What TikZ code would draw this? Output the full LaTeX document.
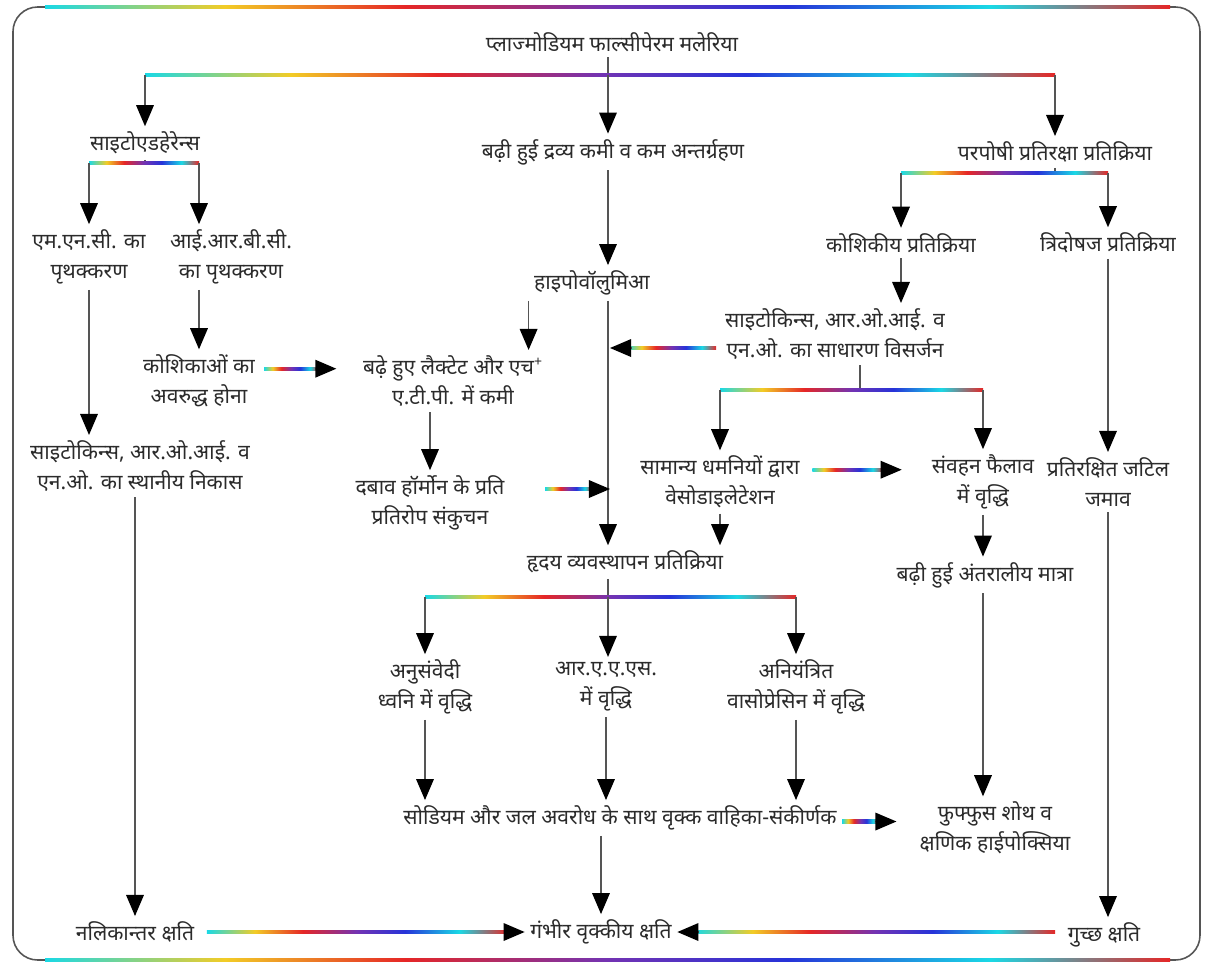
\documentclass[tikz,border=0pt]{standalone}
\usepackage{fontspec}
\setmainfont[Script=Devanagari]{Noto Sans}
\usetikzlibrary{arrows.meta}
\definecolor{ink}{HTML}{2B2B2B}
\definecolor{shaft}{HTML}{555555}
\pgfdeclarehorizontalshading{fringe}{100bp}{rgb(0bp)=(0.1,0.85,0.9); rgb(25bp)=(0.1,0.85,0.9); rgb(33bp)=(0.95,0.8,0.15); rgb(41bp)=(0.9,0.15,0.15); rgb(50bp)=(0.45,0.2,0.7); rgb(58bp)=(0.15,0.2,0.85); rgb(67bp)=(0.1,0.85,0.9); rgb(75bp)=(0.9,0.15,0.15); rgb(100bp)=(0.9,0.15,0.15)}
\newcommand{\fringebar}[2]{\shade[shading=fringe] ([yshift=-0.9pt]#1) rectangle ([yshift=0.9pt]#2);}
\newcommand{\fringeright}[2]{\shade[shading=fringe] ([yshift=-0.9pt]#1) rectangle ([yshift=0.9pt,xshift=-10pt]#2);
  \draw[tip] ([xshift=-12pt]#2) -- (#2);}
\newcommand{\fringeleft}[2]{\shade[shading=fringe] ([yshift=-0.9pt]#1) rectangle ([yshift=0.9pt,xshift=10pt]#2);
  \draw[tip] ([xshift=12pt]#2) -- (#2);}

\begin{document}
\begin{tikzpicture}[x=0.02cm, y=-0.02cm,
    txt/.style={font=\fontsize{12}{17}\selectfont, text=ink, align=center, inner sep=3pt},
    link/.style={draw=shaft, line width=0.9pt},
    tip/.style={link, -{Triangle[length=12pt, width=10pt, black]}}]
  \useasboundingbox (0,0) rectangle (1205,965);
  % frame
  \draw[shaft, line width=0.9pt, rounded corners=14pt] (13,7) rectangle (1200,960);
  \shade[shading=fringe] (45,5.5) rectangle (1170,8.5);
  \shade[shading=fringe] (45,958.5) rectangle (1170,961.5);

  % nodes
  \node[txt] (title) at (612,42) {प्लाज्मोडियम फाल्सीपेरम मलेरिया};
  \node[txt] (cyto) at (145,143) {साइटोएडहेरेन्स};
  \node[txt] (fluid) at (613,152) {बढ़ी हुई द्रव्य कमी व कम अन्तर्ग्रहण};
  \node[txt] (host) at (1055,152) {परपोषी प्रतिरक्षा प्रतिक्रिया};
  \node[txt] (mnc) at (89,257) {एम.एन.सी. का\\पृथक्करण};
  \node[txt] (irbc) at (231,257) {आई.आर.बी.सी.\\का पृथक्करण};
  \node[txt] (cell) at (901,243) {कोशिकीय प्रतिक्रिया};
  \node[txt] (humo) at (1108,243) {त्रिदोषज प्रतिक्रिया};
  \node[txt] (hypo) at (592,283) {हाइपोवॉलुमिआ};
  \node[txt] (sysrel) at (835,334) {साइटोकिन्स, आर.ओ.आई. व\\एन.ओ. का साधारण विसर्जन};
  \node[txt] (kosh) at (199,381) {कोशिकाओं का\\अवरुद्ध होना};
  \node[txt] (lact) at (453,381) {बढ़े हुए लैक्टेट और एच\textsuperscript{+}\\ए.टी.पी. में कमी};
  \node[txt] (local) at (140,466) {साइटोकिन्स, आर.ओ.आई. व\\एन.ओ. का स्थानीय निकास};
  \node[txt] (vaso) at (720,482) {सामान्य धमनियों द्वारा\\वेसोडाइलेटेशन};
  \node[txt] (perm) at (983,482) {संवहन फैलाव\\में वृद्धि};
  \node[txt] (immune) at (1108,482) {प्रतिरक्षित जटिल\\जमाव};
  \node[txt] (press) at (430,503) {दबाव हॉर्मोन के प्रति\\प्रतिरोप संकुचन};
  \node[txt] (heart) at (625,562) {हृदय व्यवस्थापन प्रतिक्रिया};
  \node[txt] (inter) at (985,575) {बढ़ी हुई अंतरालीय मात्रा};
  \node[txt] (symp) at (425,687) {अनुसंवेदी\\ध्वनि में वृद्धि};
  \node[txt] (raas) at (606,687) {आर.ए.ए.एस.\\में वृद्धि};
  \node[txt] (vasop) at (796,687) {अनियंत्रित\\वासोप्रेसिन में वृद्धि};
  \node[txt] (sodium) at (620,818) {सोडियम और जल अवरोध के साथ वृक्क वाहिका-संकीर्णक};
  \node[txt] (pulm) at (995,828) {फुफ्फुस शोथ व\\क्षणिक हाईपोक्सिया};
  \node[txt] (tub) at (135,932) {नलिकान्तर क्षति};
  \node[txt, font=\fontsize{12}{17}\selectfont\bfseries] (renal) at (601,932) {गंभीर वृक्कीय क्षति};
  \node[txt] (glom) at (1104,935) {गुच्छ क्षति};

  % first split
  \coordinate (b0) at (608,75);
  \coordinate (b0l) at (b0 -| cyto);
  \coordinate (b0r) at (b0 -| host);
  \draw[link] (title.south -| b0) -- (b0);
  \fringebar{b0l}{b0r}
  \draw[tip] (b0l) -- (cyto);
  \draw[tip] (b0) -- (fluid.north -| b0);
  \draw[tip] (b0r) -- (host);

  % cytoadherence branch
  \coordinate (b1) at (145,163);
  \coordinate (b1l) at (b1 -| mnc);
  \coordinate (b1r) at (b1 -| kosh);
  \draw[link] (cyto.south) -- (b1);
  \fringebar{b1l}{b1r}
  \draw[tip] (b1l) -- (mnc);
  \draw[tip] (b1r) -- (b1r |- irbc.north);
  \draw[tip] (mnc.south) -- (mnc.south |- local.north);
  \draw[tip] (irbc.south -| kosh) -- (kosh);
  \draw[tip] (local.south -| tub) -- (tub);
  \coordinate (k1) at ([yshift=7pt,xshift=2pt]kosh.east);
  \coordinate (k2) at ([xshift=-12pt]lact.west |- k1);
  \fringeright{k1}{k2}

  % fluid loss branch
  \draw[tip] (fluid.south -| b0) -- (hypo.north -| b0);
  \draw[tip] (hypo.south west) -- (hypo.south west |- lact.north);
  \draw[tip] (hypo.south -| b0) -- (heart.north -| b0);
  \draw[tip] (lact.south -| press) -- (press);
  \coordinate (m2) at (610,489);
  \coordinate (p1) at ([xshift=20pt]press.east |- m2);
  \fringeright{p1}{m2}

  % host response branch
  \coordinate (b2) at (1055,173);
  \coordinate (b2l) at (b2 -| cell);
  \coordinate (b2r) at (b2 -| humo);
  \draw[link] (host.south) -- (b2);
  \fringebar{b2l}{b2r}
  \draw[tip] (b2l) -- (cell);
  \draw[tip] (b2r) -- (humo);
  \draw[tip] (cell) -- (cell |- sysrel.north);
  \draw[tip] (humo) -- (immune);
  \coordinate (m1) at (610,348);
  \coordinate (s1) at ([xshift=-2pt]sysrel.west |- m1);
  \fringeleft{s1}{m1}
  \coordinate (b3) at (860,390);
  \coordinate (b3l) at (b3 -| vaso);
  \coordinate (b3r) at (b3 -| perm);
  \draw[link] (sysrel.south -| b3) -- (b3);
  \fringebar{b3l}{b3r}
  \draw[tip] (b3l) -- (vaso);
  \draw[tip] (b3r) -- (perm);
  \coordinate (v1) at ([yshift=7pt,xshift=4pt]vaso.east);
  \coordinate (v2) at ([xshift=-14pt]perm.west |- v1);
  \fringeright{v1}{v2}
  \draw[tip] (vaso.south) -- (vaso.south |- heart.north);
  \draw[tip] (perm) -- (perm |- inter.north);
  \draw[tip] (inter.south -| perm) -- (perm |- pulm.north);
  \draw[tip] (immune) -- (immune |- glom.north);

  % compensatory response
  \coordinate (b4) at (608,597);
  \coordinate (b4l) at (b4 -| symp);
  \coordinate (b4r) at (b4 -| vasop);
  \draw[link] (heart.south -| b4) -- (b4);
  \fringebar{b4l}{b4r}
  \draw[tip] (b4l) -- (symp);
  \draw[tip] (b4) -- (raas.north -| b4);
  \draw[tip] (b4r) -- (vasop);
  \draw[tip] (symp) -- (symp |- sodium.north);
  \draw[tip] (raas) -- (raas |- sodium.north);
  \draw[tip] (vasop) -- (vasop |- sodium.north);
  \coordinate (n1) at ([yshift=-2pt]sodium.east);
  \coordinate (n2) at ([xshift=-10pt]pulm.west |- n1);
  \fringeright{n1}{n2}

  % injury
  \draw[tip] (sodium.south -| renal) -- (renal);
  \coordinate (t1) at ([xshift=4pt]tub.east);
  \coordinate (t2) at (renal.west |- t1);
  \fringeright{t1}{t2}
  \coordinate (g1) at ([xshift=-4pt]glom.west |- renal.east);
  \coordinate (g2) at (renal.east);
  \fringeleft{g1}{g2}
\end{tikzpicture}
\end{document}
